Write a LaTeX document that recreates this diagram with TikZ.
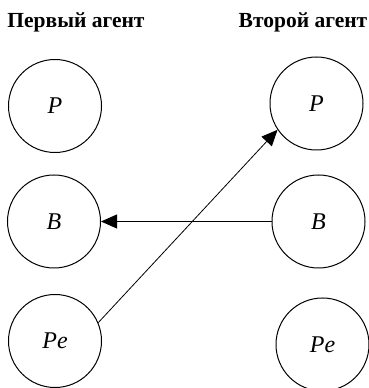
\documentclass[tikz,border=0pt]{standalone}
\usepackage{fontspec}
\setmainfont{Liberation Serif}
\usetikzlibrary{arrows.meta}
\tikzset{
    agentstate/.style={draw, circle, line width=1pt, minimum size=93pt, inner sep=0pt, font=\fontsize{24}{28}\selectfont\itshape},
    agenttitle/.style={font=\fontsize{21.5}{25}\selectfont\bfseries},
    msg/.style={-{Triangle[length=16pt,width=14pt]}, line width=0.8pt}
}
\begin{document}
\begin{tikzpicture}[x=1pt, y=1pt]
    \useasboundingbox (0, 0) rectangle (369, 388);

    % Agent headers
    \node[agenttitle] (first) at (76, 366) {Первый агент};
    \node[agenttitle] (second) at (303, 366) {Второй агент};

    % States of the first agent
    \node[agentstate] (p1) at (55, 282) {P};
    \node[agentstate] (b1) at (54, 166.5) {B};
    \node[agentstate] (pe1) at (55, 47) {Pe};

    % States of the second agent
    \node[agentstate] (p2) at (316.5, 284.5) {P};
    \node[agentstate] (b2) at (318.5, 166.5) {B};
    \node[agentstate] (pe2) at (322.5, 43.5) {Pe};

    % Messages
    \draw[msg] (pe1.23) -- (p2.214);
    \draw[msg] (b2.west) -- (b1.east);
\end{tikzpicture}
\end{document}
